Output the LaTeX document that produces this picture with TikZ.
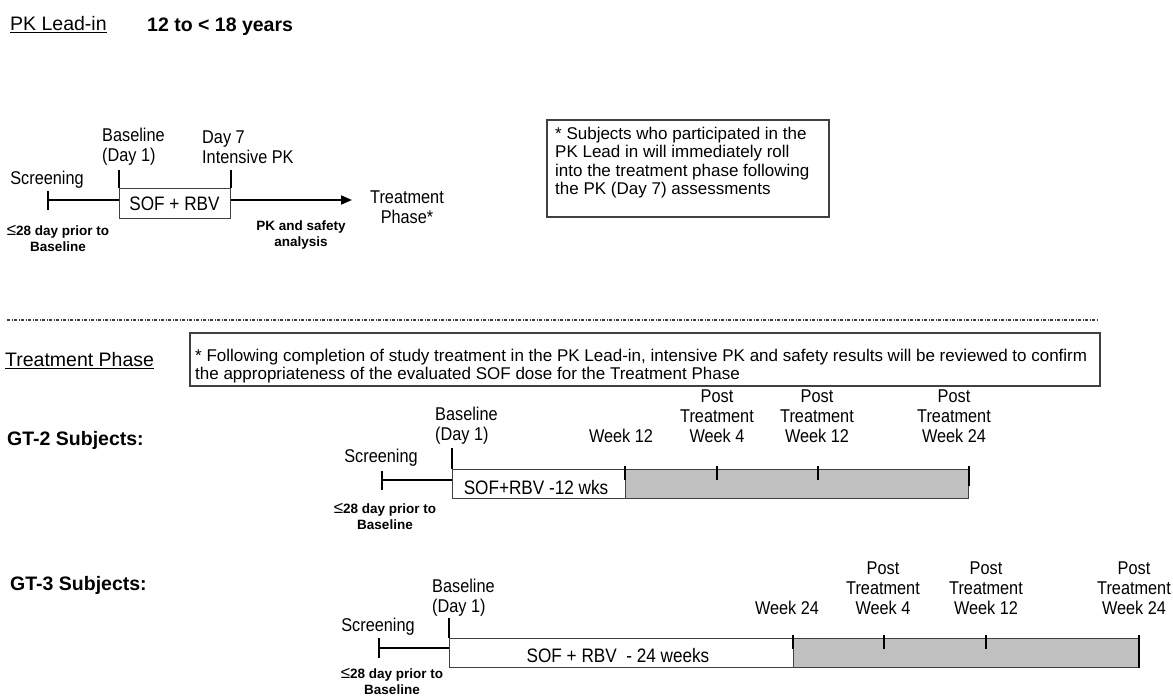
\documentclass[tikz,border=0pt]{standalone}
\usepackage{fontspec}
\setmainfont{Liberation Sans}
\newfontfamily\narrowfont[FakeStretch=0.88]{Liberation Sans}
\usetikzlibrary{arrows.meta}
\definecolor{edgegray}{HTML}{404040}
\definecolor{fillgray}{HTML}{C0C0C0}
\newcommand{\leqsym}{{\mdseries\fontsize{17}{16}\selectfont ≤}}
\tikzset{
  heading/.style={font=\fontsize{19.5}{23}\selectfont, inner sep=0pt, anchor=west},
  subjhead/.style={font=\bfseries\fontsize{19.5}{23}\selectfont, inner sep=0pt, anchor=west},
  lbl/.style={font=\narrowfont\fontsize{18.5}{20}\selectfont, inner sep=0pt, align=center},
  lblL/.style={lbl, align=left, anchor=west},
  boxtxt/.style={font=\narrowfont\fontsize{19.5}{22}\selectfont, inner sep=0pt},
  smalltxt/.style={font=\bfseries\fontsize{13.5}{16}\selectfont, inner sep=0pt, align=center},
  notetxt/.style={font=\fontsize{17}{18.5}\selectfont, inner sep=0pt, align=left, anchor=west},
  notebox/.style={draw=edgegray, line width=1.8pt, inner sep=0pt, anchor=north west},
  tl/.style={line width=1.8pt},
  tk/.style={line width=2pt},
  whiteseg/.style={draw=edgegray, line width=1.3pt, fill=white, inner sep=0pt, anchor=north west},
  grayseg/.style={whiteseg, fill=fillgray},
  sepline/.style={draw=black!75, line width=1.2pt, dash pattern=on 3pt off 1.5pt on 1pt off 1.5pt},
}
\begin{document}
\begin{tikzpicture}[x=1pt,y=-1pt]
\useasboundingbox[fill=white] (0,0) rectangle (1173,698);

% ---------- PK Lead-in ----------
\node[heading] (pkhead) at (10,25) {\underline{PK Lead-in}};
\node[subjhead] (agehead) at (147,27) {12 to < 18 years};

\node[lbl] (t0scr) at (47,180) {Screening};
\coordinate (t0s) at (48,200);
\node[whiteseg, minimum width=111, minimum height=30] (t0box) at (119,188) {};
\node[boxtxt] (t0txt) at (174.5,204) {SOF + RBV};
\coordinate (t0j) at (119,200);
\coordinate (t0arrow) at (352,200);
\draw[tl] (t0s) -- (t0j);
\draw[tk] ([yshift=9pt]t0s) -- ([yshift=-10pt]t0s);
\draw[tk] (t0box.north west) -- ++(0,-18);
\draw[tk] (t0box.north east) -- ++(0,-18);
\draw[tl, -{Triangle[length=11pt,width=9pt]}] (t0box.east |- t0j) -- (t0arrow);

\node[lblL] (t0base) at (102,147) {Baseline\\(Day 1)};
\node[lblL] (t0day7) at (202,147) {Day 7\\Intensive PK};
\node[lbl] (t0treat) at (407,207) {Treatment\\Phase*};
\node[smalltxt] (t0pk) at (301,235) {PK and safety\\analysis};
\node[smalltxt] (t0pre) at (58,238) {\leqsym28 day prior to\\Baseline};

\node[notebox, minimum width=282, minimum height=97] (note1) at (546,119) {};
\node[notetxt] (note1txt) at (555,162.5) {* Subjects who participated in the\\PK Lead in will immediately roll\\into the treatment phase following\\the PK (Day 7) assessments};

% ---------- separator ----------
\coordinate (sepL) at (7,320);
\coordinate (sepR) at (1098,320);
\draw[sepline] (sepL) -- (sepR);

% ---------- Treatment Phase ----------
\node[heading] (tphead) at (5,361) {\underline{Treatment Phase}};
\node[notebox, minimum width=910, minimum height=53] (note2) at (189,332) {};
\node[notetxt] (note2txt) at (195,366) {* Following completion of study treatment in the PK Lead-in, intensive PK and safety results will be reviewed to confirm\\the appropriateness of the evaluated SOF dose for the Treatment Phase};

% ---------- GT-2 ----------
\node[subjhead] (gt2head) at (7,440) {GT-2 Subjects:};
\node[lbl] (g2scr) at (381,458) {Screening};
\coordinate (g2s) at (382,480);
\node[whiteseg, minimum width=173, minimum height=29] (g2w) at (452,469) {};
\node[grayseg, minimum width=343, minimum height=29] (g2g) at (625,469) {};
\coordinate (g2j) at (452,480);
\coordinate (g2m1) at (717,469);
\coordinate (g2m2) at (818,469);
\draw[tl] (g2s) -- (g2j);
\draw[tk] ([yshift=9pt]g2s) -- ([yshift=-10pt]g2s);
\draw[tk] (g2w.north west) -- ++(0,-21);
\draw[tk] ([yshift=3pt]g2g.north west) -- ([yshift=-11pt]g2g.north west);
\draw[tk] ([yshift=3pt]g2m1) -- ([yshift=-11pt]g2m1);
\draw[tk] ([yshift=3pt]g2m2) -- ([yshift=-11pt]g2m2);
\draw[tk] ([yshift=3pt]g2g.north east) -- ([yshift=-17pt]g2g.north east);
\node[boxtxt] (g2t) at (536,488) {SOF+RBV -12 wks};

\node[lblL] (g2base) at (435,426) {Baseline\\(Day 1)};
\node[lbl] (g2w12) at (621,436) {Week 12};
\node[lbl] (g2p4) at (717,416) {Post\\Treatment\\Week 4};
\node[lbl] (g2p12) at (817,416) {Post\\Treatment\\Week 12};
\node[lbl] (g2p24) at (954,416) {Post\\Treatment\\Week 24};
\node[smalltxt] (g2pre) at (385,516) {\leqsym28 day prior to\\Baseline};

% ---------- GT-3 ----------
\node[subjhead] (gt3head) at (10,585) {GT-3 Subjects:};
\node[lbl] (g3scr) at (378,627) {Screening};
\coordinate (g3s) at (379,648);
\node[whiteseg, minimum width=344, minimum height=29] (g3w) at (449,638) {};
\node[grayseg, minimum width=345, minimum height=29] (g3g) at (793,638) {};
\coordinate (g3j) at (449,648);
\coordinate (g3m1) at (884,638);
\coordinate (g3m2) at (986,638);
\draw[tl] (g3s) -- (g3j);
\draw[tk] ([yshift=10pt]g3s) -- ([yshift=-10pt]g3s);
\draw[tk] (g3w.north west) -- ++(0,-20);
\draw[tk] ([yshift=3pt]g3g.north west) -- ([yshift=-11pt]g3g.north west);
\draw[tk] ([yshift=3pt]g3m1) -- ([yshift=-11pt]g3m1);
\draw[tk] ([yshift=3pt]g3m2) -- ([yshift=-11pt]g3m2);
\draw[tk] ([yshift=3pt]g3g.north east) -- (g3g.south east);
\node[boxtxt] (g3t) at (618,656) {SOF + RBV\ \ - 24 weeks};

\node[lblL] (g3base) at (432,598) {Baseline\\(Day 1)};
\node[lbl] (g3w24) at (787,608) {Week 24};
\node[lbl] (g3p4) at (883,588) {Post\\Treatment\\Week 4};
\node[lbl] (g3p12) at (986,588) {Post\\Treatment\\Week 12};
\node[lbl] (g3p24) at (1134,588) {Post\\Treatment\\Week 24};
\node[smalltxt] (g3pre) at (392,681) {\leqsym28 day prior to\\Baseline};
\end{tikzpicture}
\end{document}
